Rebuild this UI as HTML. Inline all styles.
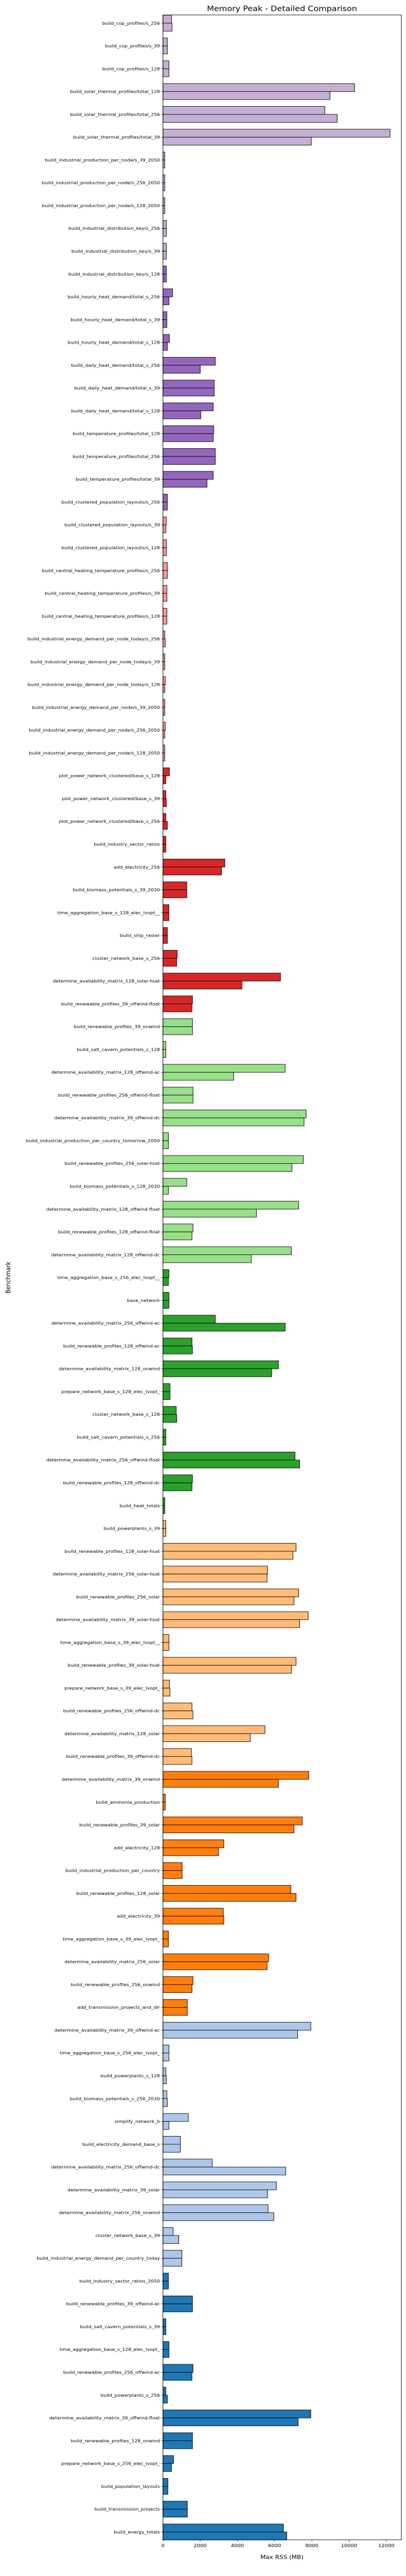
<!DOCTYPE html>
<html><head><meta charset="utf-8">
<style>
html,body{margin:0!important;padding:0!important;background:#fff;width:789px!important;height:5540px!important;overflow:hidden!important;}
#wrap{position:relative;width:789px;height:5540px;overflow:hidden;}
#chart{position:absolute;left:0;top:0;width:789px!important;height:5540px!important;max-width:none!important;max-height:none!important;display:block;font-family:"DejaVu Sans","Liberation Sans",sans-serif;}
</style></head>
<body>
<div id="wrap">
<svg id="chart" width="789" height="5540" viewBox="0 0 789 5540" preserveAspectRatio="none" xmlns="http://www.w3.org/2000/svg">
<rect width="789" height="5540" fill="#fff"/>
<g id="root" transform="scale(1,0.8985)">
<text x="548" y="24" text-anchor="middle" font-size="16" fill="#000">Memory Peak - Detailed Comparison</text>
<g id="bars"></g>
<g id="yaxis"></g>
<g id="xaxis"></g>
<rect x="316.7" y="32.3" width="463.3" height="5454.4" fill="none" stroke="#000" stroke-width="1"/>
<text x="548" y="5528" text-anchor="middle" font-size="12" fill="#000">Max RSS (MB)</text>
<text x="20" y="2760" text-anchor="middle" font-size="12" fill="#000" transform="rotate(-90 20 2760)">Benchmark</text>
</g>
</svg>
</div>
<script>
const categories = [
"build_cop_profiles/s_256","build_cop_profiles/s_39","build_cop_profiles/s_128",
"build_solar_thermal_profiles/total_128","build_solar_thermal_profiles/total_256","build_solar_thermal_profiles/total_39",
"build_industrial_production_per_node/s_39_2050","build_industrial_production_per_node/s_256_2050","build_industrial_production_per_node/s_128_2050",
"build_industrial_distribution_key/s_256","build_industrial_distribution_key/s_39","build_industrial_distribution_key/s_128",
"build_hourly_heat_demand/total_s_256","build_hourly_heat_demand/total_s_39","build_hourly_heat_demand/total_s_128",
"build_daily_heat_demand/total_s_256","build_daily_heat_demand/total_s_39","build_daily_heat_demand/total_s_128",
"build_temperature_profiles/total_128","build_temperature_profiles/total_256","build_temperature_profiles/total_39",
"build_clustered_population_layouts/s_256","build_clustered_population_layouts/s_39","build_clustered_population_layouts/s_128",
"build_central_heating_temperature_profiles/s_256","build_central_heating_temperature_profiles/s_39","build_central_heating_temperature_profiles/s_128",
"build_industrial_energy_demand_per_node_today/s_256","build_industrial_energy_demand_per_node_today/s_39","build_industrial_energy_demand_per_node_today/s_128",
"build_industrial_energy_demand_per_node/s_39_2050","build_industrial_energy_demand_per_node/s_256_2050","build_industrial_energy_demand_per_node/s_128_2050",
"plot_power_network_clustered/base_s_128","plot_power_network_clustered/base_s_39","plot_power_network_clustered/base_s_256",
"build_industry_sector_ratios","add_electricity_256","build_biomass_potentials_s_39_2030","time_aggregation_base_s_128_elec_lvopt__",
"build_ship_raster","cluster_network_base_s_256","determine_availability_matrix_128_solar-hsat","build_renewable_profiles_39_offwind-float",
"build_renewable_profiles_39_onwind","build_salt_cavern_potentials_s_128","determine_availability_matrix_128_offwind-ac","build_renewable_profiles_256_offwind-float",
"determine_availability_matrix_39_offwind-dc","build_industrial_production_per_country_tomorrow_2050","build_renewable_profiles_256_solar-hsat","build_biomass_potentials_s_128_2030",
"determine_availability_matrix_128_offwind-float","build_renewable_profiles_128_offwind-float","determine_availability_matrix_128_offwind-dc","time_aggregation_base_s_256_elec_lvopt__",
"base_network","determine_availability_matrix_256_offwind-ac","build_renewable_profiles_128_offwind-ac","determine_availability_matrix_128_onwind",
"prepare_network_base_s_128_elec_lvopt_","cluster_network_base_s_128","build_salt_cavern_potentials_s_256","determine_availability_matrix_256_offwind-float",
"build_renewable_profiles_128_offwind-dc","build_heat_totals","build_powerplants_s_39","build_renewable_profiles_128_solar-hsat",
"determine_availability_matrix_256_solar-hsat","build_renewable_profiles_256_solar","determine_availability_matrix_39_solar-hsat","time_aggregation_base_s_39_elec_lvopt__",
"build_renewable_profiles_39_solar-hsat","prepare_network_base_s_39_elec_lvopt_","build_renewable_profiles_256_offwind-dc","determine_availability_matrix_128_solar",
"build_renewable_profiles_39_offwind-dc","determine_availability_matrix_39_onwind","build_ammonia_production","build_renewable_profiles_39_solar",
"add_electricity_128","build_industrial_production_per_country","build_renewable_profiles_128_solar","add_electricity_39",
"time_aggregation_base_s_39_elec_lvopt_","determine_availability_matrix_256_solar","build_renewable_profiles_256_onwind","add_transmission_projects_and_dlr",
"determine_availability_matrix_39_offwind-ac","time_aggregation_base_s_256_elec_lvopt_","build_powerplants_s_128","build_biomass_potentials_s_256_2030",
"simplify_network_b","build_electricity_demand_base_s","determine_availability_matrix_256_offwind-dc","determine_availability_matrix_39_solar",
"determine_availability_matrix_256_onwind","cluster_network_base_s_39","build_industrial_energy_demand_per_country_today","build_industry_sector_ratios_2050",
"build_renewable_profiles_39_offwind-ac","build_salt_cavern_potentials_s_39","time_aggregation_base_s_128_elec_lvopt_","build_renewable_profiles_256_offwind-ac",
"build_powerplants_s_256","determine_availability_matrix_39_offwind-float","build_renewable_profiles_128_onwind","prepare_network_base_s_256_elec_lvopt_",
"build_population_layouts","build_transmission_projects","build_energy_totals"
];
const seriesA = [459,236,320,10293,8694,12199,97,97,97,181,181,181,515,209,348,2810,2754,2699,2726,2810,2699,236,181,181,236,209,209,97,97,125,97,125,97,348,153,153,153,3324,1280,320,236,765,6315,1586,1586,153,6566,1614,7692,292,7539,1280,7289,1614,6899,320,320,2810,1558,6204,376,709,153,7094,1586,97,153,7150,5620,7289,7803,320,7150,348,1558,5481,1530,7831,125,7484,3269,1029,6872,3241,292,5675,1614,1308,7943,320,153,209,1363,932,2643,6093,5647,542,1015,292,1586,153,320,1614,153,7943,1586,570,264,1308,6469];
const seriesB = [487,236,320,8972,9361,7970,97,97,97,181,181,181,320,209,236,2003,2754,2031,2699,2810,2365,236,153,181,236,209,209,125,97,97,97,97,97,153,181,236,153,3144,1280,320,236,737,4243,1558,1586,153,3797,1614,7581,292,6927,292,5021,1558,4743,292,320,6566,1586,5842,376,737,153,7344,1558,97,153,6983,5592,7039,7344,320,6899,376,1614,4688,1558,6204,125,7039,2977,1029,7150,3269,292,5592,1558,1308,7233,320,181,236,320,932,6593,5620,5953,848,1015,292,1586,153,320,1558,236,7261,1586,459,264,1308,6649];
const xTickValues = [0,2000,4000,6000,8000,10000,12000];
const xTickLabels = ["0","2000","4000","6000","8000","10000","12000"];
const palette = ["#c5b0d5","#9467bd","#ff9896","#d62728","#98df8a","#2ca02c","#ffbb78","#ff7f0e","#aec7e8","#1f77b4"];

const NS = "http://www.w3.org/2000/svg";
const X0 = 316.7, PXPERMB = 0.03617, Y0 = 50, STEP = 49.27, BH = 0.35*49.27;
function xScale(v){ return X0 + v*PXPERMB; }
function yScale(i){ return Y0 + i*STEP; }
function mk(tag, attrs){ const e=document.createElementNS(NS,tag); for(const k in attrs) e.setAttribute(k,attrs[k]); return e; }
const gb=document.getElementById('bars'), gy=document.getElementById('yaxis'), gx=document.getElementById('xaxis');
categories.forEach((c,i)=>{
  const col = palette[Math.min(9, Math.floor(i/11))];
  const yc = yScale(i);
  [[seriesA[i], yc-BH, 'a'],[seriesB[i], yc, 'b']].forEach(([v,yt,s])=>{
    const r = mk('rect',{x:X0, y:yt, width:Math.max(0,xScale(v)-X0), height:BH, fill:col, stroke:'#000', 'stroke-width':1});
    
    
    gb.appendChild(r);
  });
  const t = mk('line',{x1:X0-3.5, x2:X0, y1:yc, y2:yc, stroke:'#000','stroke-width':0.8});
  
  
  gy.appendChild(t);
  const tx = mk('text',{x:X0-6, y:yc+3.2, 'text-anchor':'end', 'font-size':9.2, fill:'#000'});
  tx.textContent = c;
  
  
  gy.appendChild(tx);
});
const YB = 5486.7;
xTickValues.forEach((v,k)=>{
  const xx = xScale(v);
  const t = mk('line',{x1:xx, x2:xx, y1:YB, y2:YB+3.5, stroke:'#000','stroke-width':0.8});
  
  
  gx.appendChild(t);
  const tx = mk('text',{x:xx, y:YB+16, 'text-anchor':'middle', 'font-size':10, fill:'#000'});
  tx.textContent = xTickLabels[k];
  
  
  gx.appendChild(tx);
});
</script>
</body></html>
